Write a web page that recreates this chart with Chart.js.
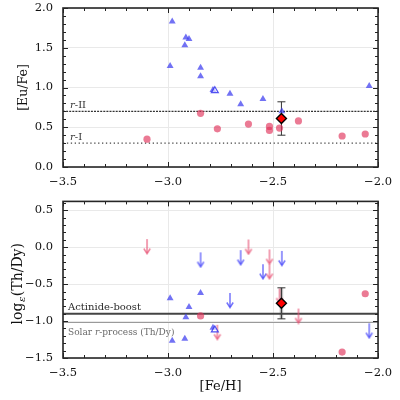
<!DOCTYPE html>
<html><head><meta charset="utf-8">
<script src="https://cdn.jsdelivr.net/npm/chart.js@4.4.1/dist/chart.umd.min.js"></script>
<style>
html,body{margin:0;padding:0;background:#fff;}
#wrap{position:relative;width:400px;height:400px;overflow:hidden;}
.box{position:absolute;left:0;width:400px;}
</style></head><body>
<div id="wrap">
<div class="box" style="top:0;height:195px"><canvas id="c1" width="400" height="195"></canvas></div>
<div class="box" style="top:195px;height:205px"><canvas id="c2" width="400" height="205"></canvas></div>
</div>
<script>
// ---- tick labels ----
const xTicks = [-3.5, -3.0, -2.5, -2.0];
const yTicksTop = [0.0, 0.5, 1.0, 1.5, 2.0];
const yTicksBot = [-1.5, -1.0, -0.5, 0.0, 0.5];

// ---- top panel: [Eu/Fe] ----
const euBlueX = [-2.99, -2.98, -2.915, -2.90, -2.92, -2.845, -2.845, -2.786, -2.705, -2.654, -2.548, -2.458, -2.042];
const euBlueY = [1.27, 1.83, 1.63, 1.61, 1.53, 1.25, 1.14, 0.97, 0.92, 0.79, 0.855, 0.70, 1.02];
const euBlueOpenX = [-2.777];
const euBlueOpenY = [0.96];
const euRedX = [-3.10, -2.845, -2.765, -2.617, -2.517, -2.517, -2.469, -2.379, -2.171, -2.061];
const euRedY = [0.35, 0.675, 0.48, 0.54, 0.51, 0.46, 0.49, 0.58, 0.39, 0.415];
const starX = [-2.46];
const starEu = [0.61];
const starEuErr = [0.21];
const rIIlevel = 0.7;
const rIlevel = 0.3;

// ---- bottom panel: log eps(Th/Dy) ----
const thBlueX = [-2.99, -2.98, -2.92, -2.915, -2.90, -2.845, -2.786];
const thBlueY = [-0.69, -1.265, -1.24, -0.95, -0.81, -0.62, -1.09];
const thBlueOpenX = [-2.777];
const thBlueOpenY = [-1.12];
const thBlueLimX = [-2.845, -2.705, -2.654, -2.548, -2.458, -2.042];
const thBlueLimY = [-0.07, -0.62, -0.04, -0.23, -0.05, -1.03];
const thRedX = [-2.845, -2.171, -2.061];
const thRedY = [-0.93, -1.42, -0.63];
const thRedLimX = [-3.10, -2.765, -2.617, -2.517, -2.517, -2.469, -2.379];
const thRedLimY = [0.11, -1.05, 0.105, -0.03, -0.23, -0.56, -0.83];
const starTh = [-0.76];
const starThErr = [0.21];
const actinideLevel = -0.9;
const solarLevel = -1.02;

const BLUE = 'rgba(60,60,240,0.72)';
const BLUE_ARROW = 'rgba(70,70,250,0.75)';
const RED = 'rgba(225,50,90,0.65)';
const RED_ARROW = 'rgba(232,80,115,0.72)';
const SERIF = '"DejaVu Serif", serif';

const pts = (xs, ys) => xs.map((x, i) => ({x: x, y: ys[i]}));
const fmt = v => (Math.abs(v) < 1e-9 ? 0 : v).toFixed(1).replace('-', '\u2212');

function makeArrow(color) {
  const c = document.createElement('canvas');
  c.width = 10; c.height = 32;
  const g = c.getContext('2d');
  g.strokeStyle = color; g.lineWidth = 1.5; g.lineCap = 'butt';
  g.beginPath(); g.moveTo(5, 16); g.lineTo(5, 30); g.stroke();
  g.beginPath(); g.moveTo(1.8, 25.5); g.lineTo(5, 30.5); g.lineTo(8.2, 25.5); g.stroke();
  return c;
}
const arrowBlue = makeArrow(BLUE_ARROW);
const arrowRed = makeArrow(RED_ARROW);

function hline(level, color, width, dash) {
  return {type: 'line', data: [{x: -3.5, y: level}, {x: -2.0, y: level}],
    borderColor: color, borderWidth: width, borderDash: dash || [], pointRadius: 0, fill: false};
}

function framePlugin(cfg) {
  return {
    id: 'frame' + cfg.id,
    beforeDatasetsDraw(chart) {
      const ctx = chart.ctx, xs = chart.scales.x, ys = chart.scales.y;
      cfg.err.forEach(e => {
        const px = xs.getPixelForValue(e.x);
        const p1 = ys.getPixelForValue(e.y + e.e), p2 = ys.getPixelForValue(e.y - e.e);
        ctx.save();
        if (cfg.id === 2) {
          ctx.strokeStyle = 'rgba(160,160,160,0.65)'; ctx.lineWidth = 3.5;
          ctx.beginPath(); ctx.moveTo(px, p1); ctx.lineTo(px, p2); ctx.stroke();
        }
        ctx.strokeStyle = '#333'; ctx.lineWidth = 1;
        ctx.beginPath(); ctx.moveTo(px, p1); ctx.lineTo(px, p2);
        ctx.moveTo(px - 4, p1); ctx.lineTo(px + 4, p1);
        ctx.moveTo(px - 4, p2); ctx.lineTo(px + 4, p2);
        ctx.stroke();
        ctx.restore();
      });
    },
    afterDraw(chart) {
      const ctx = chart.ctx, a = chart.chartArea, xs = chart.scales.x, ys = chart.scales.y;
      ctx.save();
      ctx.strokeStyle = '#222'; ctx.lineWidth = 1;
      ctx.beginPath();
      for (let i = -35; i <= -20; i++) {
        const v = i / 10, px = Math.round(xs.getPixelForValue(v)) + 0.5;
        const L = (i % 5 === 0) ? 5 : 3;
        ctx.moveTo(px, a.bottom); ctx.lineTo(px, a.bottom - L);
        ctx.moveTo(px, a.top); ctx.lineTo(px, a.top + L);
      }
      const y0 = Math.ceil(ys.min * 10 - 1e-6), y1 = Math.floor(ys.max * 10 + 1e-6);
      for (let j = y0; j <= y1; j++) {
        const py = Math.round(ys.getPixelForValue(j / 10)) + 0.5;
        const L = (j % 5 === 0) ? 5 : 3;
        ctx.moveTo(a.left, py); ctx.lineTo(a.left + L, py);
        ctx.moveTo(a.right, py); ctx.lineTo(a.right - L, py);
      }
      ctx.stroke();
      ctx.strokeStyle = '#262626'; ctx.lineWidth = 1.6;
      ctx.strokeRect(a.left, a.top, a.right - a.left, a.bottom - a.top);
      ctx.fillStyle = '#111';
      cfg.text(ctx, a, xs, ys);
      ctx.restore();
    }
  };
}

function mixed(ctx, parts, x, y) {
  let cx = x;
  parts.forEach(p => { ctx.font = p[1]; ctx.fillText(p[0], cx, y); cx += ctx.measureText(p[0]).width; });
}

function makeChart(el, o) {
  return new Chart(el, {
    type: 'scatter',
    data: {datasets: o.datasets},
    options: {
      responsive: false, animation: false, devicePixelRatio: 1,
      plugins: {legend: {display: false}, tooltip: {enabled: false}},
      layout: {padding: {left: 0, right: 15, top: o.padTop, bottom: 0}},
      scales: {
        x: {type: 'linear', min: -3.5, max: -2.0,
          afterBuildTicks: s => { s.ticks = xTicks.map(v => ({value: v})); },
          afterFit: s => { s.height = o.xH; },
          grid: {color: '#e9e9e9', lineWidth: 1, drawTicks: false},
          border: {display: false},
          ticks: {padding: 8, color: '#111', maxRotation: 0, autoSkip: false,
            font: {family: SERIF, size: 11.5}, callback: v => fmt(v)}
        },
        y: {type: 'linear', min: o.ymin, max: o.ymax,
          afterBuildTicks: s => { s.ticks = o.yTicks.map(v => ({value: v})); },
          afterFit: s => { s.width = 63; s.paddingTop = 0; s.paddingBottom = 0; },
          grid: {color: '#e9e9e9', lineWidth: 1, drawTicks: false},
          border: {display: false},
          ticks: {padding: 10, color: '#111', autoSkip: false,
            font: {family: SERIF, size: 11.5}, callback: v => fmt(v)}
        }
      }
    },
    plugins: [framePlugin(o.frame)]
  });
}

const diamond = (xs, ys) => ({data: pts(xs, ys), pointStyle: 'rectRot', pointRadius: 5,
  backgroundColor: '#ff0000', borderColor: '#000', borderWidth: 1.4});

// ---- top chart ----
makeChart(document.getElementById('c1'), {
  ymin: 0, ymax: 2.0, yTicks: yTicksTop, padTop: 8, xH: 28,
  datasets: [
    diamond(starX, starEu),
    {data: pts(euBlueOpenX, euBlueOpenY), pointStyle: 'triangle', pointRadius: 4,
      backgroundColor: 'rgba(255,255,255,0.6)', borderColor: 'rgba(50,50,240,0.85)', borderWidth: 1.2},
    {data: pts(euBlueX, euBlueY), pointStyle: 'triangle', pointRadius: 4,
      backgroundColor: BLUE, borderColor: BLUE, borderWidth: 0},
    {data: pts(euRedX, euRedY), pointStyle: 'circle', pointRadius: 3.6,
      backgroundColor: RED, borderColor: RED, borderWidth: 0},
    hline(rIIlevel, '#333', 1.4, [2, 1.1]),
    hline(rIlevel, '#444', 1.2, [1.3, 2.6])
  ],
  frame: {id: 1,
    err: starX.map((x, i) => ({x: x, y: starEu[i], e: starEuErr[i]})),
    text(ctx, a, xs, ys) {
      ctx.fillStyle = '#333'; ctx.textBaseline = 'alphabetic';
      const lx = a.left + 7;
      mixed(ctx, [['r', 'italic 10px ' + SERIF], ['-II', '10px ' + SERIF]], lx, ys.getPixelForValue(rIIlevel) - 3);
      mixed(ctx, [['r', 'italic 10px ' + SERIF], ['-I', '10px ' + SERIF]], lx, ys.getPixelForValue(rIlevel) - 3);
      ctx.fillStyle = '#111';
      ctx.font = '12.5px ' + SERIF; ctx.textAlign = 'center'; ctx.textBaseline = 'middle';
      ctx.translate(24, (a.top + a.bottom) / 2);
      ctx.rotate(-Math.PI / 2);
      ctx.fillText('[Eu/Fe]', 0, 0);
    }
  }
});

// ---- bottom chart ----
makeChart(document.getElementById('c2'), {
  ymin: -1.5, ymax: 0.62, yTicks: yTicksBot, padTop: 6, xH: 42,
  datasets: [
    diamond(starX, starTh),
    {data: pts(thBlueOpenX, thBlueOpenY), pointStyle: 'triangle', pointRadius: 4,
      backgroundColor: 'rgba(255,255,255,0.6)', borderColor: 'rgba(50,50,240,0.85)', borderWidth: 1.2},
    {data: pts(thBlueX, thBlueY), pointStyle: 'triangle', pointRadius: 4,
      backgroundColor: BLUE, borderColor: BLUE, borderWidth: 0},
    {data: pts(thRedX, thRedY), pointStyle: 'circle', pointRadius: 3.6,
      backgroundColor: RED, borderColor: RED, borderWidth: 0},
    {data: pts(thBlueLimX, thBlueLimY), pointStyle: arrowBlue, pointRadius: 5},
    {data: pts(thRedLimX, thRedLimY), pointStyle: arrowRed, pointRadius: 5},
    hline(actinideLevel, '#444', 2, []),
    hline(solarLevel, '#9a9a9a', 1.1, [])
  ],
  frame: {id: 2,
    err: starX.map((x, i) => ({x: x, y: starTh[i], e: starThErr[i]})),
    text(ctx, a, xs, ys) {
      const lx = a.left + 5;
      ctx.textBaseline = 'alphabetic';
      ctx.fillStyle = '#2a2a2a';
      ctx.font = '10px ' + SERIF;
      ctx.fillText('Actinide-boost', lx, ys.getPixelForValue(actinideLevel) - 4);
      ctx.fillStyle = '#6a6a6a';
      mixed(ctx, [['Solar ', '9px ' + SERIF], ['r', 'italic 9px ' + SERIF], ['-process (Th/Dy)', '9px ' + SERIF]],
        lx, ys.getPixelForValue(solarLevel) + 12);
      ctx.fillStyle = '#111';
      ctx.font = '13px ' + SERIF; ctx.textAlign = 'center'; ctx.textBaseline = 'middle';
      ctx.fillText('[Fe/H]', (a.left + a.right) / 2, 192);
      ctx.save();
      ctx.translate(17, (a.top + a.bottom) / 2 + 4);
      ctx.rotate(-Math.PI / 2);
      ctx.textAlign = 'left'; ctx.textBaseline = 'alphabetic';
      const f1 = '14px ' + SERIF, f2 = 'italic 10px ' + SERIF;
      ctx.font = f1; const w1 = ctx.measureText('log').width;
      ctx.font = f2; const w2 = ctx.measureText('\u03b5').width + 1;
      ctx.font = f1; const w3 = ctx.measureText('(Th/Dy)').width;
      let sx = -(w1 + w2 + w3) / 2;
      ctx.font = f1; ctx.fillText('log', sx, 5); sx += w1;
      ctx.font = f2; ctx.fillText('\u03b5', sx + 0.5, 8); sx += w2;
      ctx.font = f1; ctx.fillText('(Th/Dy)', sx, 5);
      ctx.restore();
    }
  }
});
</script>
</body></html>
